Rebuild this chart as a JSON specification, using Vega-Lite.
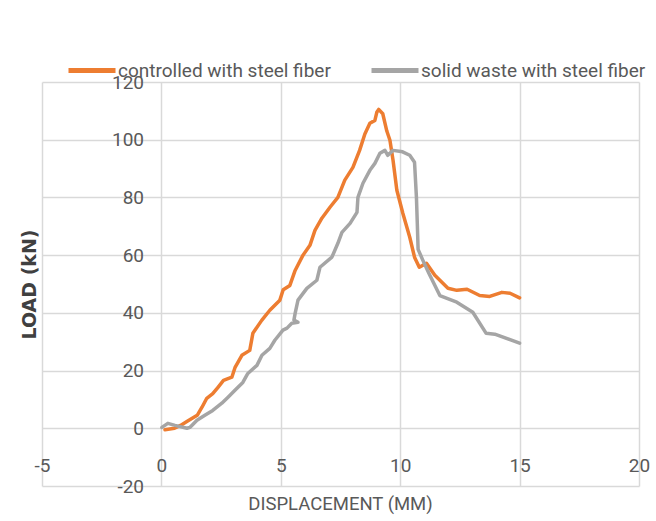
{
  "$schema": "https://vega.github.io/schema/vega-lite/v6.json",
  "width": 597,
  "height": 404,
  "autosize": "none",
  "padding": {"left": 42, "top": 82, "right": 17, "bottom": 35},
  "background": "white",
  "config": {"view": {"stroke": null}},
  "data": {"values": [
    {"s":"controlled with steel fiber","x":0.15,"y":-0.5},{"s":"controlled with steel fiber","x":0.55,"y":0},{"s":"controlled with steel fiber","x":0.8,"y":1},{"s":"controlled with steel fiber","x":1.1,"y":2.5},{"s":"controlled with steel fiber","x":1.5,"y":4.5},{"s":"controlled with steel fiber","x":1.7,"y":7.3},{"s":"controlled with steel fiber","x":1.9,"y":10.4},{"s":"controlled with steel fiber","x":2.15,"y":12},{"s":"controlled with steel fiber","x":2.37,"y":14.2},{"s":"controlled with steel fiber","x":2.6,"y":16.6},{"s":"controlled with steel fiber","x":2.95,"y":17.7},{"s":"controlled with steel fiber","x":3.08,"y":21},{"s":"controlled with steel fiber","x":3.37,"y":25.3},{"s":"controlled with steel fiber","x":3.7,"y":27},{"s":"controlled with steel fiber","x":3.83,"y":32.9},{"s":"controlled with steel fiber","x":4.2,"y":37.4},{"s":"controlled with steel fiber","x":4.54,"y":40.9},{"s":"controlled with steel fiber","x":4.96,"y":44.4},{"s":"controlled with steel fiber","x":5.1,"y":48},{"s":"controlled with steel fiber","x":5.38,"y":49.5},{"s":"controlled with steel fiber","x":5.6,"y":54.7},{"s":"controlled with steel fiber","x":5.93,"y":60},{"s":"controlled with steel fiber","x":6.22,"y":63.4},{"s":"controlled with steel fiber","x":6.43,"y":68.6},{"s":"controlled with steel fiber","x":6.72,"y":72.8},{"s":"controlled with steel fiber","x":7.06,"y":76.6},{"s":"controlled with steel fiber","x":7.39,"y":80},{"s":"controlled with steel fiber","x":7.68,"y":86},{"s":"controlled with steel fiber","x":8.02,"y":90.4},{"s":"controlled with steel fiber","x":8.3,"y":96.3},{"s":"controlled with steel fiber","x":8.52,"y":102},{"s":"controlled with steel fiber","x":8.73,"y":105.7},{"s":"controlled with steel fiber","x":8.94,"y":106.7},{"s":"controlled with steel fiber","x":9.02,"y":109.5},{"s":"controlled with steel fiber","x":9.1,"y":110.5},{"s":"controlled with steel fiber","x":9.27,"y":109},{"s":"controlled with steel fiber","x":9.44,"y":103},{"s":"controlled with steel fiber","x":9.57,"y":99.8},{"s":"controlled with steel fiber","x":9.7,"y":92.9},{"s":"controlled with steel fiber","x":9.86,"y":82.5},{"s":"controlled with steel fiber","x":10.11,"y":74.5},{"s":"controlled with steel fiber","x":10.4,"y":66.2},{"s":"controlled with steel fiber","x":10.6,"y":59.3},{"s":"controlled with steel fiber","x":10.8,"y":55.8},{"s":"controlled with steel fiber","x":11.1,"y":57.2},{"s":"controlled with steel fiber","x":11.45,"y":53},{"s":"controlled with steel fiber","x":12.0,"y":48.5},{"s":"controlled with steel fiber","x":12.37,"y":47.8},{"s":"controlled with steel fiber","x":12.8,"y":48.2},{"s":"controlled with steel fiber","x":13.33,"y":46},{"s":"controlled with steel fiber","x":13.75,"y":45.7},{"s":"controlled with steel fiber","x":14.26,"y":47.1},{"s":"controlled with steel fiber","x":14.6,"y":46.8},{"s":"controlled with steel fiber","x":15.0,"y":45.2},
    {"s":"solid waste with steel fiber","x":0.02,"y":0.3},{"s":"solid waste with steel fiber","x":0.27,"y":1.7},{"s":"solid waste with steel fiber","x":0.57,"y":1},{"s":"solid waste with steel fiber","x":1.07,"y":0},{"s":"solid waste with steel fiber","x":1.19,"y":0.3},{"s":"solid waste with steel fiber","x":1.49,"y":2.8},{"s":"solid waste with steel fiber","x":1.82,"y":4.5},{"s":"solid waste with steel fiber","x":2.15,"y":6.2},{"s":"solid waste with steel fiber","x":2.53,"y":8.7},{"s":"solid waste with steel fiber","x":2.78,"y":10.7},{"s":"solid waste with steel fiber","x":3.08,"y":13.2},{"s":"solid waste with steel fiber","x":3.41,"y":15.9},{"s":"solid waste with steel fiber","x":3.62,"y":19},{"s":"solid waste with steel fiber","x":4.0,"y":21.8},{"s":"solid waste with steel fiber","x":4.21,"y":25.3},{"s":"solid waste with steel fiber","x":4.54,"y":27.7},{"s":"solid waste with steel fiber","x":4.75,"y":30.5},{"s":"solid waste with steel fiber","x":5.09,"y":34},{"s":"solid waste with steel fiber","x":5.26,"y":34.7},{"s":"solid waste with steel fiber","x":5.46,"y":36.4},{"s":"solid waste with steel fiber","x":5.72,"y":36.7},{"s":"solid waste with steel fiber","x":5.55,"y":37.5},{"s":"solid waste with steel fiber","x":5.6,"y":39.8},{"s":"solid waste with steel fiber","x":5.72,"y":44.4},{"s":"solid waste with steel fiber","x":6.09,"y":48.5},{"s":"solid waste with steel fiber","x":6.51,"y":51.3},{"s":"solid waste with steel fiber","x":6.64,"y":55.8},{"s":"solid waste with steel fiber","x":7.14,"y":59.3},{"s":"solid waste with steel fiber","x":7.39,"y":64.1},{"s":"solid waste with steel fiber","x":7.56,"y":67.9},{"s":"solid waste with steel fiber","x":7.9,"y":71},{"s":"solid waste with steel fiber","x":8.19,"y":74.8},{"s":"solid waste with steel fiber","x":8.23,"y":80},{"s":"solid waste with steel fiber","x":8.44,"y":84.9},{"s":"solid waste with steel fiber","x":8.73,"y":89.4},{"s":"solid waste with steel fiber","x":8.94,"y":91.8},{"s":"solid waste with steel fiber","x":9.15,"y":95.3},{"s":"solid waste with steel fiber","x":9.36,"y":96.3},{"s":"solid waste with steel fiber","x":9.48,"y":94.6},{"s":"solid waste with steel fiber","x":9.7,"y":96.3},{"s":"solid waste with steel fiber","x":10.1,"y":95.8},{"s":"solid waste with steel fiber","x":10.4,"y":94.6},{"s":"solid waste with steel fiber","x":10.6,"y":92.2},{"s":"solid waste with steel fiber","x":10.68,"y":80},{"s":"solid waste with steel fiber","x":10.72,"y":70},{"s":"solid waste with steel fiber","x":10.75,"y":62},{"s":"solid waste with steel fiber","x":10.95,"y":58.2},{"s":"solid waste with steel fiber","x":11.2,"y":53.7},{"s":"solid waste with steel fiber","x":11.66,"y":46},{"s":"solid waste with steel fiber","x":12.37,"y":43.7},{"s":"solid waste with steel fiber","x":13.04,"y":40.2},{"s":"solid waste with steel fiber","x":13.6,"y":32.9},{"s":"solid waste with steel fiber","x":13.96,"y":32.6},{"s":"solid waste with steel fiber","x":15.0,"y":29.5}
  ]},
  "mark": {"type": "line", "strokeWidth": 3.5, "strokeJoin": "round", "strokeCap": "round"},
  "encoding": {
    "x": {
      "field": "x", "type": "quantitative",
      "scale": {"domain": [-5, 20], "nice": false, "zero": false},
      "axis": {
        "values": [-5, 0, 5, 10, 15, 20],
        "labelExpr": "datum.value + ''",
        "title": "DISPLACEMENT (MM)",
        "offset": -58,
        "domain": false, "ticks": false,
        "labelPadding": 28,
        "labelFont": "Roboto",
        "labelFontSize": 19, "labelColor": "#595959",
        "labelFlush": false, "labelOverlap": false,
        "grid": true, "gridColor": "#d9d9d9", "gridWidth": 1.5,
        "titleFont": "Roboto",
        "titleFontSize": 18.5, "titleFontWeight": "normal", "titleColor": "#595959",
        "titleX": 298, "titleY": 75, "titleBaseline": "middle", "titleAlign": "center"
      }
    },
    "y": {
      "field": "y", "type": "quantitative",
      "scale": {"domain": [-20, 120], "nice": false, "zero": false},
      "axis": {
        "values": [-20, 0, 20, 40, 60, 80, 100, 120],
        "labelExpr": "datum.value + ''",
        "title": "LOAD (kN)",
        "offset": -119.5,
        "domain": false, "ticks": false,
        "labelPadding": 18,
        "labelFont": "Roboto",
        "labelFontSize": 19, "labelColor": "#595959",
        "labelFlush": false, "labelOverlap": false,
        "grid": true, "gridColor": "#d9d9d9", "gridWidth": 1.5,
        "titleFont": "DejaVu Sans", "titleFontSize": 19, "titleFontWeight": "bold", "titleColor": "#404040",
        "titleX": -132, "titleY": 202, "titleAngle": -90, "titleBaseline": "middle", "titleAlign": "center"
      }
    },
    "color": {
      "field": "s", "type": "nominal",
      "scale": {"domain": ["controlled with steel fiber", "solid waste with steel fiber"], "range": ["#ED7D31", "#A5A5A5"]},
      "legend": {
        "title": null,
        "orient": "none", "direction": "horizontal",
        "legendX": 24, "legendY": -37.5,
        "symbolType": "stroke", "symbolSize": 2209, "symbolStrokeWidth": 5,
        "labelFont": "Roboto",
        "labelFontSize": 19, "labelColor": "#595959", "labelOffset": 0, "labelLimit": 400,
        "columnPadding": 30
      }
    },
    "order": {"value": null}
  }
}
